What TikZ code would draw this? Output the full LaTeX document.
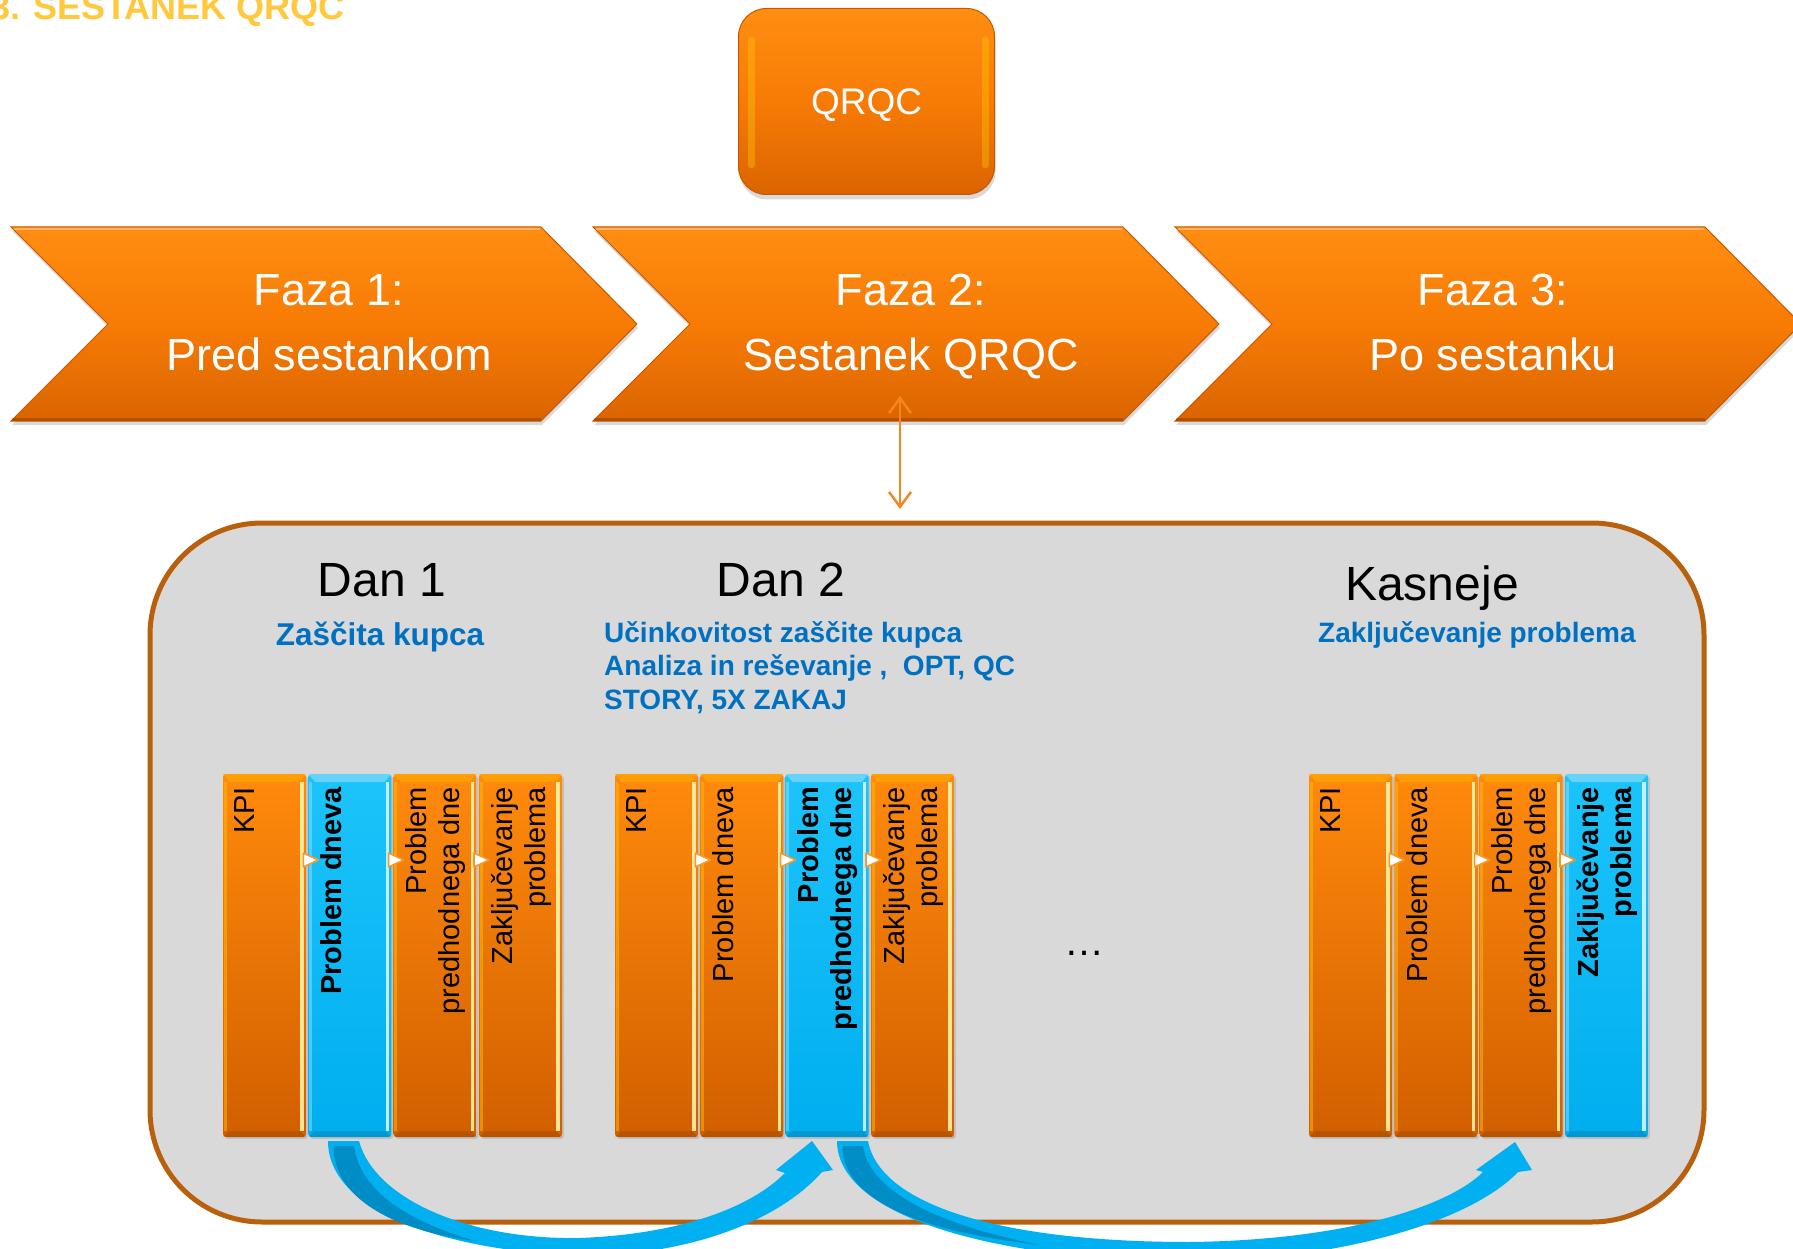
\documentclass[tikz,border=0pt]{standalone}
\usepackage{fontspec}
\setmainfont{Liberation Sans}
\usetikzlibrary{arrows.meta,shadows,calc}
\definecolor{chevA}{HTML}{FF8E12}
\definecolor{chevM}{HTML}{F77B05}
\definecolor{chevB}{HTML}{DA6400}
\definecolor{chevD}{HTML}{C45A00}
\definecolor{colOA}{HTML}{FF8A0C}
\definecolor{colOB}{HTML}{D25F00}
\definecolor{colBA}{HTML}{1CC4FA}
\definecolor{colBB}{HTML}{00AEEF}
\definecolor{bluearrow}{HTML}{00B0F0}
\definecolor{bluedark}{HTML}{008CC4}
\definecolor{boxfill}{HTML}{D9D9D9}
\definecolor{boxline}{HTML}{B8600C}
\definecolor{titleyel}{HTML}{FFC83D}
\definecolor{subblue}{HTML}{0070C0}
\definecolor{arrowor}{HTML}{F5861F}
\definecolor{triOr}{HTML}{F29A2E}
\newcommand\myfs[2]{\fontsize{#1}{#2}\selectfont}
% column: #1 name, #2 left x, #3 type (or/bl), #4 text style, #5 text
\newcommand\mycol[5]{%
  \node[colbase,#3fill] (#1) at (#2+41.5,955.5) {};
  \fill[#3top] (#1.north west) -- (#1.north east) -- ($(#1.north east)+(-7,8)$) -- ($(#1.north west)+(7,8)$) -- cycle;
  \fill[#3bot] (#1.south west) -- (#1.south east) -- ($(#1.south east)+(-6,-6)$) -- ($(#1.south west)+(6,-6)$) -- cycle;
  \fill[#3hl] ($(#1.north east)+(-6,8)$) rectangle ($(#1.south east)+(-2.5,-6)$);
  \fill[#3lt] ($(#1.north west)+(1,8)$) rectangle ($(#1.south west)+(4,-6)$);
  \node[#4, anchor=north east, rotate=90] (#1t) at ($(#1.north west)+(12,13)$) {#5};
}
\newcommand\mytri[1]{\path[tri] (#1-5,853) -- (#1+10,860) -- (#1-5,867) -- cycle;}
\begin{document}
\begin{tikzpicture}[x=1pt,y=-1pt,
  chev/.style={top color=chevA, bottom color=chevB, middle color=chevM, draw=chevD, line width=1pt,
    drop shadow={shadow xshift=1pt,shadow yshift=-4pt,opacity=0.3}},
  phtext/.style={text=white, font=\myfs{45}{65}, align=center, inner sep=0},
  colbase/.style={minimum width=83pt, minimum height=363pt, inner sep=0, rounded corners=3pt,
    drop shadow={shadow xshift=2pt,shadow yshift=-2pt,opacity=0.25}},
  orfill/.style={top color=colOA, bottom color=colOB},
  ortop/.style={fill=orange!60!yellow, opacity=0.55},
  orbot/.style={fill=black, opacity=0.12},
  orhl/.style={fill=yellow!30!white, opacity=0.85},
  orlt/.style={fill=orange!50!yellow, opacity=0.5},
  blfill/.style={top color=colBA, bottom color=colBB},
  bltop/.style={fill=cyan!40!white, opacity=0.6},
  blbot/.style={fill=black, opacity=0.12},
  blhl/.style={fill=cyan!15!white, opacity=0.9},
  bllt/.style={fill=cyan!40!white, opacity=0.5},
  ctn/.style={font=\myfs{29}{33}, align=right, inner sep=0, text=black},
  ctb/.style={font=\bfseries\myfs{29}{33}, align=right, inner sep=0, text=black},
  tri/.style={fill=white, draw=triOr, line width=1.6pt, line join=round},
  dan/.style={font=\myfs{48}{52}, inner sep=0, text=black},
  subt/.style={font=\bfseries\myfs{31.5}{34}, inner sep=0, text=subblue},
  subs/.style={font=\bfseries\myfs{28}{33.5}, inner sep=0, text=subblue, align=left},
  barrow/.style={fill=bluearrow},
  bdark/.style={fill=bluedark}
]
\useasboundingbox (0,0) rectangle (1793,1249);
\clip (0,0) rectangle (1793,1249);

% title
\node[anchor=base west, text=titleyel, font=\bfseries\myfs{36}{40}, inner sep=0] (title) at (-10,20) {3. SESTANEK QRQC};

% QRQC box
\node[minimum width=256pt, minimum height=186pt, rounded corners=28pt, top color=chevA, bottom color=chevB, middle color=chevM,
  draw=chevD, line width=1pt, drop shadow={shadow xshift=1pt,shadow yshift=-5pt,opacity=0.3},
  text=white, font=\myfs{37}{40}] (qrqc) at (866.5,101.5) {};
\draw[yellow!70!orange, opacity=0.35, line width=7pt, line cap=round] ($(qrqc.north west)+(13,32)$) -- ($(qrqc.south west)+(13,-30)$);
\draw[yellow!70!orange, opacity=0.35, line width=7pt, line cap=round] ($(qrqc.north east)+(-10,32)$) -- ($(qrqc.south east)+(-10,-30)$);
\node[text=white, font=\myfs{37}{40}, inner sep=0] (qrqct) at (866.5,105) {QRQC};

% chevrons
\foreach \dx in {0,582,1164} {
  \path[chev] (11+\dx,227) -- (541+\dx,227) -- (637+\dx,324) -- (541+\dx,421) -- (11+\dx,421) -- (108+\dx,324) -- cycle;
  \draw[white, opacity=0.35, line width=2pt] (14+\dx,229) -- (540+\dx,229);
  \draw[black, opacity=0.18, line width=3pt] (12+\dx,419) -- (541+\dx,419);
}
\node[phtext] (ph1) at (329,323) {Faza 1:\\Pred sestankom};
\node[phtext] (ph2) at (911,326.5) {Faza 2:\\Sestanek QRQC};
\node[phtext] (ph3) at (1493,323) {Faza 3:\\Po sestanku};

% main box
\node[draw=boxline, line width=5pt, fill=boxfill, rounded corners=112pt, minimum width=1554pt, minimum height=699pt, inner sep=0] (main) at (927,872.5) {};

% double arrow
\coordinate (dtop) at (900,396);
\coordinate (dbot) at (900,509);
\draw[arrowor, line width=2.5pt, {Straight Barb[length=15pt,width=22pt]}-{Straight Barb[length=15pt,width=22pt]}] (dtop) -- (dbot);

% headings
\node[dan, anchor=base] (d1) at (382,596) {Dan 1};
\node[dan, anchor=base] (d2) at (781,596) {Dan 2};
\node[dan, anchor=base] (d3) at (1432,600) {Kasneje};
\node[subt, anchor=base] (s1) at (380,645) {Zaščita kupca};
\node[subs, anchor=north west] (s2) at (604,621) {Učinkovitost zaščite kupca\\Analiza in reševanje , \ OPT, QC\\STORY, 5X ZAKAJ};
\node[subs, anchor=base west] (s3) at (1318,642) {Zaključevanje problema};
\node[font=\myfs{40}{44}, inner sep=0, anchor=base] (dots) at (1084,955) {…};

% columns group 1
\mycol{ga}{223}{or}{ctn}{KPI}
\mycol{gb}{308.3}{bl}{ctb}{Problem dneva}
\mycol{gc}{393.6}{or}{ctn}{Problem\\predhodnega dne}
\mycol{gd}{479}{or}{ctn}{Zaključevanje\\problema}
\mytri{308.3}\mytri{393.6}\mytri{479}
% group 2
\mycol{ha}{615}{or}{ctn}{KPI}
\mycol{hb}{700.3}{or}{ctn}{Problem dneva}
\mycol{hc}{785.6}{bl}{ctb}{Problem\\predhodnega dne}
\mycol{hd}{871}{or}{ctn}{Zaključevanje\\problema}
\mytri{700.3}\mytri{785.6}\mytri{871}
% group 3
\mycol{ka}{1309}{or}{ctn}{KPI}
\mycol{kb}{1394.3}{or}{ctn}{Problem dneva}
\mycol{kc}{1479.6}{or}{ctn}{Problem\\predhodnega dne}
\mycol{kd}{1565}{bl}{ctb}{Zaključevanje\\problema}
\mytri{1394.3}\mytri{1479.6}\mytri{1565}

% curved arrow 1
\path[barrow] (328,1141) .. controls (328,1210) and (440,1250) .. (580,1256)
  .. controls (680,1256) and (775,1225) .. (822,1172)
  -- (833,1170) -- (812,1141) -- (776,1170) -- (785,1173)
  .. controls (750,1208) and (680,1234) .. (580,1238)
  .. controls (470,1240) and (375,1200) .. (359,1141) -- cycle;
\path[bdark] (333.5,1146) .. controls (333.5,1198) and (392,1230) .. (475,1241)
  .. controls (410,1222) and (360,1192) .. (354,1146) -- cycle;
% curved arrow 2
\path[barrow] (837,1141) .. controls (837,1215) and (990,1260) .. (1190,1262)
  .. controls (1340,1260) and (1470,1222) .. (1518,1172)
  -- (1532,1170) -- (1515,1142) -- (1476,1170) -- (1483,1172)
  .. controls (1450,1205) and (1350,1240) .. (1190,1242)
  .. controls (1000,1242) and (880,1205) .. (868,1141) -- cycle;
\path[bdark] (842.5,1146) .. controls (842.5,1202) and (925,1232) .. (1040,1245)
  .. controls (950,1227) and (870,1196) .. (863,1146) -- cycle;
\end{tikzpicture}
\end{document}
